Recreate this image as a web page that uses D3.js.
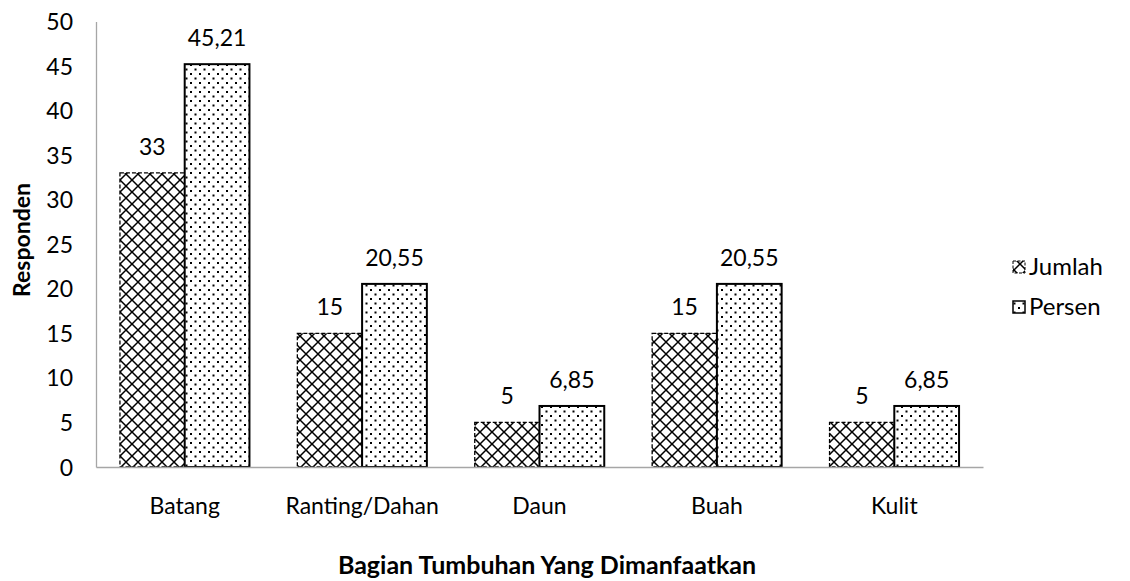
<!DOCTYPE html>
<html>
<head>
<meta charset="utf-8">
<script src="https://cdn.jsdelivr.net/npm/d3@7"></script>
<style>
  body { margin: 0; background: #fff; }
  text { font-family: Lato, "Open Sans", sans-serif; fill: #000; }
</style>
</head>
<body>
<svg id="chart" width="1130" height="581"></svg>
<script>
// Plant parts used by respondents
const categories = ["Batang", "Ranting/Dahan", "Daun", "Buah", "Kulit"];
const jumlah = [33, 15, 5, 15, 5];
const persen = [45.21, 20.55, 6.85, 20.55, 6.85];
const jumlahLabels = ["33", "15", "5", "15", "5"];
const persenLabels = ["45,21", "20,55", "6,85", "20,55", "6,85"];
const seriesNames = ["Jumlah", "Persen"];
const yTicks = [0, 5, 10, 15, 20, 25, 30, 35, 40, 45, 50];

const svg = d3.select("#chart");
const plotLeft = 96, plotRight = 983, plotTop = 21.5, plotBottom = 467;
const fontSize = "23px";

// Fill patterns: diamond cross-hatch and scattered dots
const defs = svg.append("defs");
const hatch = defs.append("pattern").attr("id", "hatch")
  .attr("patternUnits", "userSpaceOnUse").attr("width", 12).attr("height", 12);
hatch.append("rect").attr("width", 12).attr("height", 12).attr("fill", "#fff");
hatch.append("path").attr("d", "M-1,-1 L13,13 M13,-1 L-1,13")
  .attr("stroke", "#000").attr("stroke-width", 1.5).attr("fill", "none");

const dots = defs.append("pattern").attr("id", "dots")
  .attr("patternUnits", "userSpaceOnUse").attr("width", 9).attr("height", 9);
dots.append("rect").attr("width", 9).attr("height", 9).attr("fill", "#fff");
dots.append("rect").attr("x", 1).attr("y", 1).attr("width", 2).attr("height", 2).attr("fill", "#000");
dots.append("rect").attr("x", 5.5).attr("y", 5.5).attr("width", 2).attr("height", 2).attr("fill", "#000");

const x = d3.scaleBand().domain(categories).range([plotLeft, plotRight]).paddingInner(0.27).paddingOuter(0.135);
const xs = d3.scaleBand().domain(seriesNames).range([0, x.bandwidth()]);
const y = d3.scaleLinear().domain([0, 50]).range([plotBottom, plotTop]);

// Y axis
const yAxis = svg.append("g").attr("transform", `translate(${plotLeft},0)`)
  .call(d3.axisLeft(y).tickValues(yTicks).tickSize(0).tickPadding(23));
yAxis.select(".domain").attr("stroke", "#a6a6a6").attr("stroke-width", 1.3);
yAxis.selectAll("text").style("font-size", fontSize).attr("dy", "0.35em");

// Bars
const data = categories.map((c, i) => ({ c, j: jumlah[i], p: persen[i], jl: jumlahLabels[i], pl: persenLabels[i] }));

const g = svg.append("g");
g.selectAll(".bj").data(data).join("rect")
  .attr("x", d => x(d.c) + xs("Jumlah"))
  .attr("y", d => y(d.j))
  .attr("width", xs.bandwidth())
  .attr("height", d => y(0) - y(d.j))
  .attr("fill", "url(#hatch)")
  .attr("stroke", "#000").attr("stroke-width", 1.3).attr("stroke-dasharray", "4,2");

g.selectAll(".bp").data(data).join("rect")
  .attr("x", d => x(d.c) + xs("Persen"))
  .attr("y", d => y(d.p))
  .attr("width", xs.bandwidth())
  .attr("height", d => y(0) - y(d.p))
  .attr("fill", "url(#dots)")
  .attr("stroke", "#000").attr("stroke-width", 2);

// Value labels
g.selectAll(".lj").data(data).join("text")
  .attr("x", d => x(d.c) + xs("Jumlah") + xs.bandwidth() / 2)
  .attr("y", d => y(d.j) - 18)
  .attr("text-anchor", "middle").style("font-size", fontSize)
  .text(d => d.jl);
g.selectAll(".lp").data(data).join("text")
  .attr("x", d => x(d.c) + xs("Persen") + xs.bandwidth() / 2)
  .attr("y", d => y(d.p) - 18)
  .attr("text-anchor", "middle").style("font-size", fontSize)
  .text(d => d.pl);

// X axis
const xAxis = svg.append("g").attr("transform", `translate(0,${plotBottom})`)
  .call(d3.axisBottom(x).tickSize(0).tickPadding(31));
xAxis.select(".domain").attr("stroke", "#a6a6a6").attr("stroke-width", 1.3);
xAxis.selectAll("text").style("font-size", fontSize).attr("dy", "0.71em");

// Axis titles
svg.append("text").attr("transform", "translate(30,240) rotate(-90)")
  .attr("text-anchor", "middle").style("font-size", "23px").style("font-weight", "bold")
  .text("Responden");
svg.append("text").attr("x", 547).attr("y", 574)
  .attr("text-anchor", "middle").style("font-size", "25px").style("font-weight", "bold")
  .text("Bagian Tumbuhan Yang Dimanfaatkan");

// Legend
const legend = svg.append("g");
const legendItems = [{ n: "Jumlah", f: "url(#hatch)", dash: "3,1.5", sw: 1 }, { n: "Persen", f: "url(#dots)", dash: null, sw: 1.5 }];
legendItems.forEach((d, i) => {
  const ly = 267 + i * 40;
  legend.append("rect").attr("x", 1013).attr("y", ly - 6).attr("width", 12).attr("height", 12)
    .attr("fill", d.f).attr("stroke", "#000").attr("stroke-width", d.sw)
    .attr("stroke-dasharray", d.dash);
  legend.append("text").attr("x", 1029).attr("y", ly).attr("dy", "0.35em")
    .style("font-size", "24px").text(d.n);
});
</script>
</body>
</html>
